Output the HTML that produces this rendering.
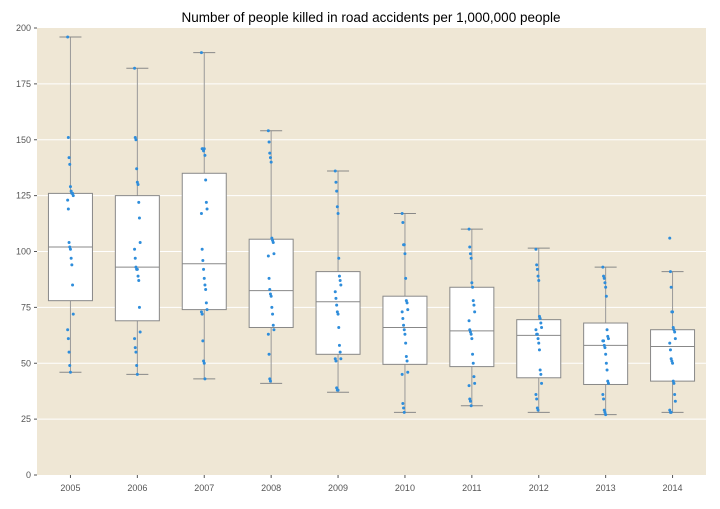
<!DOCTYPE html>
<html><head><meta charset="utf-8"><style>
body{margin:0;background:#fff;}
svg text{font-family:"Liberation Sans",sans-serif;}
</style></head><body>
<svg id="chart" width="720" height="504" xmlns="http://www.w3.org/2000/svg">
<text x="371" y="22" text-anchor="middle" font-size="13.5" fill="#000">Number of people killed in road accidents per 1,000,000 people</text>
<rect x="37" y="28" width="669" height="447" fill="#efe7d5"/>
<g id="grid"></g><g id="boxes"></g><g id="points"></g><g id="axes"></g>
</svg>
<script>
const years=['2005','2006','2007','2008','2009','2010','2011','2012','2013','2014'];
const whiskLow=[46,45,43,41,37,28,31,28,27,28];
const q1=[78,69,74,66,54,49.5,48.5,43.5,40.5,42];
const med=[102,93,94.5,82.5,77.5,66,64.5,62.5,58,57.5];
const q3=[126,125,135,105.5,91,80,84,69.5,68,65];
const whiskHigh=[196,182,189,154,136,117,110,101.5,93,91];
const yTicks=[0,25,50,75,100,125,150,175,200];
const pts=[
[196,151,142,139,129,127,126,126,125,123,119,104,102,101,97,94,85,72,65,61,55,49,46],
[182,151,150,137,131,130,122,115,104,101,97,93,92,92,89,87,75,64,61,57,55,49,45],
[189,146,146,145,146,143,132,122,119,117,101,96,92,88,85,83,77,74,73,72,60,51,50,43],
[154,149,144,142,140,106,105,104,99,98,88,83,81,80,75,72,67,65,63,54,43,42],
[136,131,127,120,117,97,89,87,85,82,79,76,73,72,66,58,55,52,52,51,39,38,38],
[117,113,103,103,99,88,78,77,74,73,70,67,65,63,59,53,51,46,45,32,30,28],
[110,102,99,97,86,84,78,76,73,69,65,64,63,61,54,50,44,41,40,34,33,31],
[101,94,92,89,87,71,70,68,66,65,63,63,61,59,56,47,45,41,36,34,30,29],
[93,89,88,86,84,80,65,62,61,60,60,58,57,54,50,47,42,41,36,34,29,28,27],
[106,91,84,73,73,66,65,64,61,59,56,52,51,50,42,41,36,33,29,28,28]
];
const NS='http://www.w3.org/2000/svg';
const x0=37,x1=706,yTop=28,yBot=475;
const yS=v=>yBot-(v/200)*(yBot-yTop);
const step=(x1-x0)/years.length;
const xS=i=>x0+step*(i+0.5);
function mk(tag,attrs,parent){const e=document.createElementNS(NS,tag);for(const k in attrs)e.setAttribute(k,attrs[k]);parent.appendChild(e);return e;}
const G=document.getElementById('grid'),B=document.getElementById('boxes'),P=document.getElementById('points'),A=document.getElementById('axes');
yTicks.forEach(t=>{
 const y=yS(t);
 if(t>0&&t<200){const l=mk('line',{x1:x0,x2:x1,y1:y,y2:y,stroke:'#fff','stroke-width':1},G);
 
 }
 const tk=mk('line',{x1:x0-3,x2:x0,y1:y,y2:y,stroke:'#555','stroke-width':1},A);
 
 
 const tx=mk('text',{x:x0-6,y:y+3,'text-anchor':'end','font-size':9,fill:'#555'},A);
 tx.textContent=t;
 
 
});
years.forEach((yr,i)=>{
 const cx=xS(i),bw=44,cw=22;
 const g=mk('g',{},B);
 
 
 mk('line',{x1:cx,x2:cx,y1:yS(whiskHigh[i]),y2:yS(whiskLow[i]),stroke:'#999','stroke-width':1},g);
 mk('line',{x1:cx-cw/2,x2:cx+cw/2,y1:yS(whiskHigh[i]),y2:yS(whiskHigh[i]),stroke:'#888','stroke-width':1},g);
 mk('line',{x1:cx-cw/2,x2:cx+cw/2,y1:yS(whiskLow[i]),y2:yS(whiskLow[i]),stroke:'#888','stroke-width':1},g);
 mk('rect',{x:cx-bw/2,y:yS(q3[i]),width:bw,height:yS(q1[i])-yS(q3[i]),fill:'#fff',stroke:'#888','stroke-width':1},g);
 mk('line',{x1:cx-bw/2,x2:cx+bw/2,y1:yS(med[i]),y2:yS(med[i]),stroke:'#888','stroke-width':1},g);
 pts[i].forEach((v,j)=>{
  const off=((j*37)%9-4)*0.7;
  const c=mk('circle',{cx:cx+off,cy:yS(v),r:1.5,fill:'#2e8ddb'},P);
  
  
 });
 const tk=mk('line',{x1:cx,x2:cx,y1:yBot,y2:yBot+3,stroke:'#555','stroke-width':1},A);
 
 
 const tx=mk('text',{x:cx,y:yBot+16,'text-anchor':'middle','font-size':9,fill:'#555'},A);
 tx.textContent=yr;
 
 
});
</script>
</body></html>
